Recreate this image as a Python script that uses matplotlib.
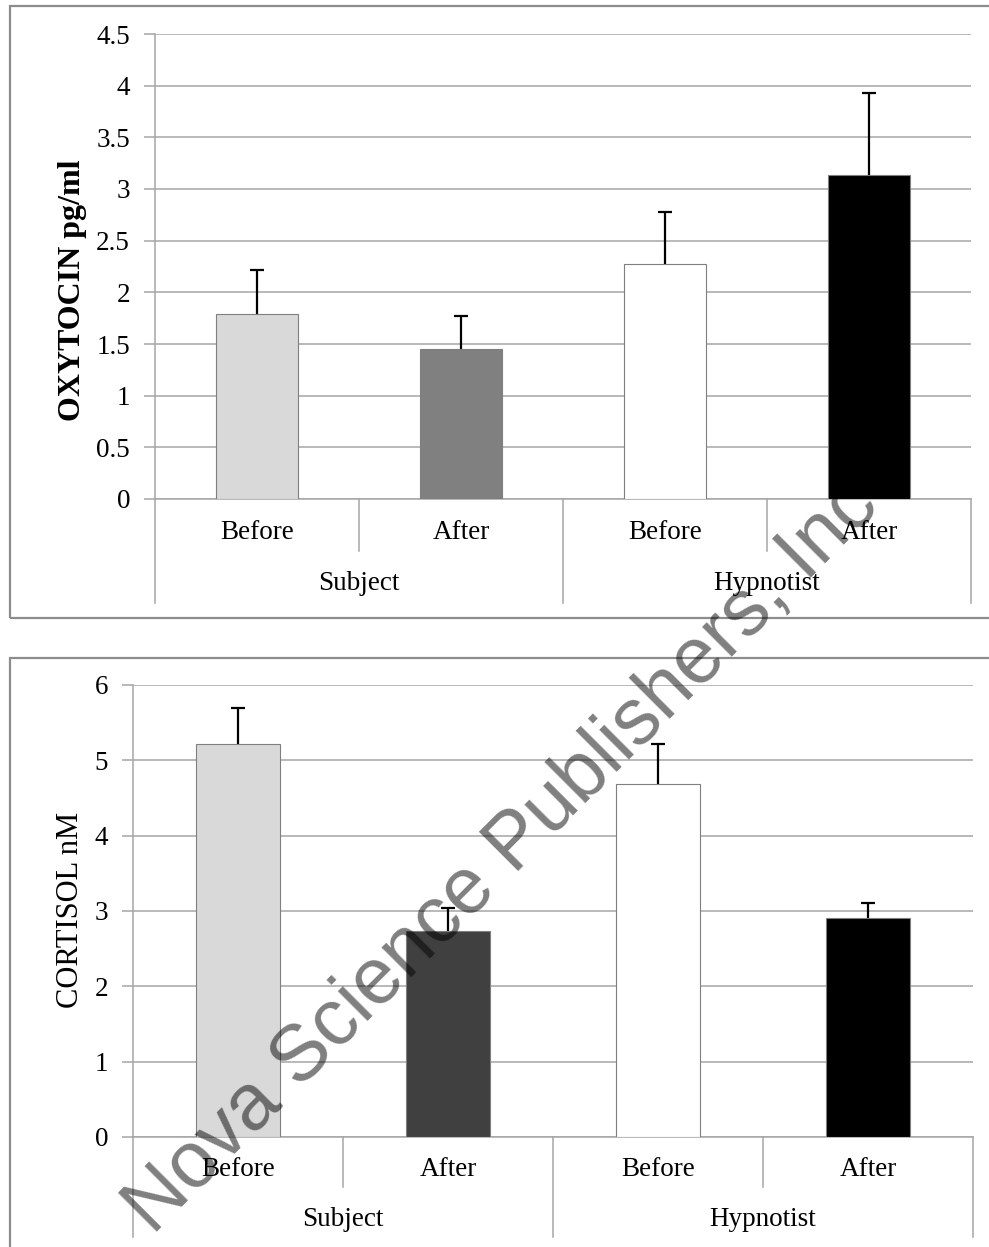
import matplotlib
matplotlib.use("Agg")
import matplotlib.pyplot as plt
from matplotlib.patches import Rectangle

## data
categories = ["Before", "After", "Before", "After"]
groups = ["Subject", "Hypnotist"]

oxytocin_means = [1.79, 1.455, 2.275, 3.14]
oxytocin_err = [0.43, 0.315, 0.505, 0.79]
oxytocin_colors = ["#d9d9d9", "#808080", "#ffffff", "#000000"]
oxytocin_ticks = [0, 0.5, 1, 1.5, 2, 2.5, 3, 3.5, 4, 4.5]
oxytocin_ticklabels = ["0", "0.5", "1", "1.5", "2", "2.5", "3", "3.5", "4", "4.5"]

cortisol_means = [5.22, 2.74, 4.68, 2.91]
cortisol_err = [0.47, 0.30, 0.54, 0.19]
cortisol_colors = ["#d9d9d9", "#404040", "#ffffff", "#000000"]
cortisol_ticks = [0, 1, 2, 3, 4, 5, 6]

W, H = 989, 1247
plt.rcParams['font.family'] = ['Liberation Serif', 'DejaVu Serif']

fig = plt.figure(figsize=(W / 100, H / 100), dpi=100)
fig.patch.set_facecolor("white")

GRID = "#a6a6a6"


def px_axes(left, right, top, bottom):
  return fig.add_axes([left / W, 1 - bottom / H, (right - left) / W, (bottom - top) / H])


#### FUNCTION: one bar panel with the two-level category axis
def draw_panel(ax, means, errs, colors, ylim, ticks, ticklabels,
               axis_h, inner_px, outer_px, cat_px, grp_px):
  xs = [i + 0.5 for i in range(len(means))]
  ax.set_xlim(0, len(means))
  ax.set_ylim(*ylim)

  ax.bar(xs, means, width=0.4, color=colors, edgecolor="#7f7f7f", linewidth=0.8, zorder=3)
  ## upper error only; hide the cap sitting on the bar top
  _, caps, _ = ax.errorbar(xs, means, yerr=[[0] * len(errs), errs], fmt="none", ecolor="black",
                           elinewidth=1.6, capsize=4.7, capthick=1.6, zorder=4)
  caps[0].set_visible(False)

  ax.set_yticks(ticks)
  ax.set_yticklabels(ticklabels)
  ax.yaxis.grid(True, color=GRID, linewidth=1.1, zorder=0)
  ax.set_axisbelow(True)
  ax.tick_params(axis="y", length=8, width=1.1, color=GRID, labelsize=19.5, pad=10)
  ax.set_xticks([])
  for side in ["top", "right"]:
    ax.spines[side].set_visible(False)
  ax.spines["left"].set_color(GRID)
  ax.spines["left"].set_linewidth(1.1)
  ax.spines["bottom"].set_color(GRID)
  ax.spines["bottom"].set_linewidth(1.1)

  ## category separator lines below the axis
  tr = ax.get_xaxis_transform()
  inner = -inner_px / axis_h
  outer = -outer_px / axis_h
  for x in [0, 2, 4]:
    ax.plot([x, x], [0, outer], transform=tr, color=GRID, linewidth=1.1, clip_on=False)
  for x in [1, 3]:
    ax.plot([x, x], [0, inner], transform=tr, color=GRID, linewidth=1.1, clip_on=False)

  for x, lab in zip(xs, categories):
    ax.text(x, -cat_px / axis_h, lab, transform=tr, ha="center", va="center", fontsize=19.5)
  for i, g in enumerate(groups):
    ax.text(2 * i + 1, -grp_px / axis_h, g, transform=tr, ha="center", va="center", fontsize=19.5)


## top panel: oxytocin
ax1 = px_axes(155, 971, 34, 499)
draw_panel(ax1, oxytocin_means, oxytocin_err, oxytocin_colors, (0, 4.5),
           oxytocin_ticks, oxytocin_ticklabels, 465, 52, 104, 34, 85)
fig.text(73 / W, 1 - 290 / H, "OXYTOCIN pg/ml", rotation=90, ha="center", va="center",
         fontsize=23, fontweight="bold")

## bottom panel: cortisol
ax2 = px_axes(133, 973, 685, 1137)
draw_panel(ax2, cortisol_means, cortisol_err, cortisol_colors, (0, 6),
           cortisol_ticks, [str(t) for t in cortisol_ticks], 452, 50, 100, 33, 83)
fig.text(70 / W, 1 - 910 / H, "CORTISOL nM", rotation=90, ha="center", va="center",
         fontsize=22)

## outer frames of the two pasted charts
fig.patches.append(Rectangle((10 / W, 1 - 618 / H), 1.1, (618 - 6) / H, transform=fig.transFigure,
                             fill=False, edgecolor="#8c8c8c", linewidth=1.6))
fig.patches.append(Rectangle((10 / W, -0.1), 1.1, 0.1 + (1247 - 658) / H, transform=fig.transFigure,
                             fill=False, edgecolor="#8c8c8c", linewidth=1.6))

## publisher watermark
fig.text(503 / W, 1 - 857 / H, "Nova Science Publishers, Inc", rotation=45,
         rotation_mode="anchor", ha="center", va="center", fontsize=57,
         family=["Liberation Sans", "DejaVu Sans"], color="black", alpha=0.5, zorder=10)

fig.savefig("out.png", dpi=100)
